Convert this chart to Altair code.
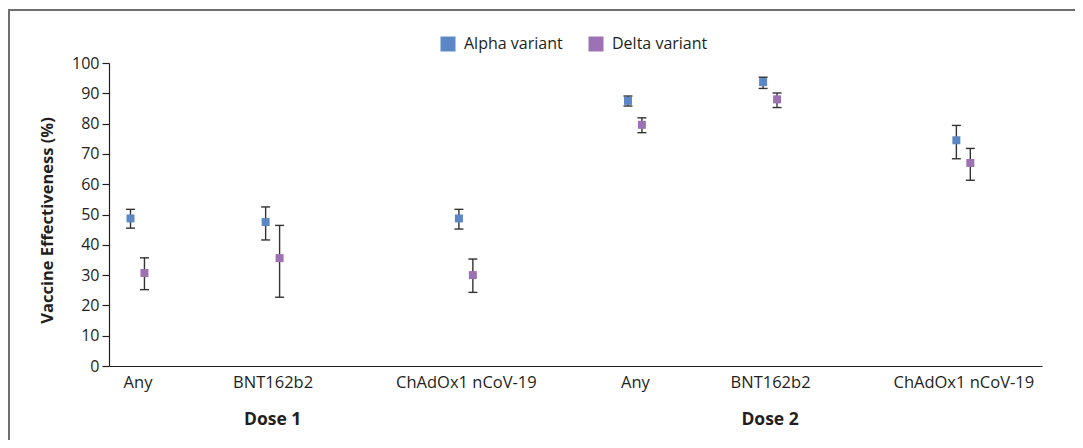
import altair as alt
import pandas as pd

# ---- data ----
doses = ["Dose 1", "Dose 2"]
vaccines = ["Any", "BNT162b2", "ChAdOx1 nCoV-19"]
variants = ["Alpha variant", "Delta variant"]

alpha_est = [48.7, 47.5, 48.7, 87.5, 93.7, 74.5]
alpha_lo = [45.5, 41.6, 45.2, 85.8, 91.6, 68.4]
alpha_hi = [51.7, 52.5, 51.7, 89.1, 95.3, 79.4]

delta_est = [30.7, 35.6, 30.0, 79.6, 88.0, 67.0]
delta_lo = [25.2, 22.7, 24.3, 77.0, 85.3, 61.3]
delta_hi = [35.7, 46.4, 35.3, 81.9, 90.1, 71.8]

y_ticks = list(range(0, 101, 10))

# ---- layout: category labels evenly gapped along the axis (in character units) ----
LEAD, GAP, TAIL, OFFSET = 1.44, 8.45, 0.62, 0.72
cats = [(d, v) for d in doses for v in vaccines]
positions = []
cur = LEAD
for d, v in cats:
    positions.append(cur + len(v) / 2)
    cur += len(v) + GAP
x_max = cur - GAP + TAIL

rows = []
series = {
    variants[0]: (alpha_est, alpha_lo, alpha_hi),
    variants[1]: (delta_est, delta_lo, delta_hi),
}
for i, (d, v) in enumerate(cats):
    for var, (e, lo, hi) in series.items():
        rows.append({"dose": d, "vaccine": v, "variant": var, "pos": positions[i],
                     "est": e[i], "lo": lo[i], "hi": hi[i]})
df = pd.DataFrame(rows)

dose_df = pd.DataFrame({
    "dose": doses,
    "xp": [positions[doses.index(d) * len(vaccines) + 1] for d in doses],
})

label_expr = ""
for p, (d, v) in zip(positions, cats):
    label_expr += f"abs(datum.value - {p:.4f}) < 0.01 ? '{v}' : "
label_expr += "''"

FONT = "Open Sans"
FS = 16
TEXT = "#231f20"
AXIS = "#231f20"
BLUE = "#5b87c6"
PURPLE = "#9c72b2"

x_enc = alt.X(
    "xp:Q",
    scale=alt.Scale(domain=[0, x_max], nice=False, zero=False),
    axis=alt.Axis(values=positions, labelExpr=label_expr, ticks=False, grid=False,
                  title=None, labelFontSize=16.5, labelColor=TEXT, labelPadding=8,
                  domainColor=AXIS, domainWidth=1.2, labelFont=FONT),
)
y_axis = alt.Axis(values=y_ticks, title="Vaccine Effectiveness (%)", grid=False,
                  tickSize=7, tickColor=AXIS, tickWidth=1.2, domainColor=AXIS,
                  domainWidth=1.2, labelFontSize=FS, labelColor=TEXT, labelPadding=3,
                  labelFont=FONT, titleFont=FONT, titleFontSize=16.5, titleColor=TEXT,
                  titleFontWeight="bold", titlePadding=16, titleY=157)
y_scale = alt.Scale(domain=[0, 100], nice=False)

base = alt.Chart(df).transform_calculate(
    xp=f"datum.pos + (datum.variant == '{variants[0]}' ? -{OFFSET} : {OFFSET})"
)

bars = base.mark_rule(color="#333333", strokeWidth=1.4).encode(
    x=x_enc, y=alt.Y("lo:Q", scale=y_scale, axis=y_axis), y2="hi:Q"
)
cap_lo = base.mark_tick(orient="horizontal", size=9, thickness=1.4, color="#333333",
                        opacity=1).encode(
    x=x_enc, y=alt.Y("lo:Q", scale=y_scale, axis=y_axis)
)
cap_hi = base.mark_tick(orient="horizontal", size=9, thickness=1.4, color="#333333",
                        opacity=1).encode(
    x=x_enc, y=alt.Y("hi:Q", scale=y_scale, axis=y_axis)
)
points = base.mark_square(size=64, opacity=1, filled=True).encode(
    x=x_enc,
    y=alt.Y("est:Q", scale=y_scale, axis=y_axis),
    color=alt.Color(
        "variant:N",
        scale=alt.Scale(domain=variants, range=[BLUE, PURPLE]),
        legend=alt.Legend(orient="none", legendX=331, legendY=-27, direction="horizontal",
                          title=None, symbolType="square", symbolSize=225,
                          symbolStrokeWidth=0, symbolOpacity=1, labelFontSize=FS,
                          labelFont=FONT, labelColor=TEXT, labelOffset=8,
                          columnPadding=25, padding=0),
    ),
)

dose_text = alt.Chart(dose_df).mark_text(
    fontWeight="bold", fontSize=17.5, font=FONT, color=TEXT, baseline="middle"
).encode(x=x_enc, y=alt.value(357), text="dose:N")

frame_df = pd.DataFrame({"k": [0]})
frame_top = alt.Chart(frame_df).mark_rule(color="#6d6e71", strokeWidth=2).encode(
    x=alt.value(-101), x2=alt.value(966), y=alt.value(-53)
)
frame_left = alt.Chart(frame_df).mark_rule(color="#6d6e71", strokeWidth=2).encode(
    x=alt.value(-100), y=alt.value(-53), y2=alt.value(377)
)

chart = alt.layer(frame_top, frame_left, bars, cap_lo, cap_hi, points, dose_text).properties(
    width=933, height=303,
    autosize=alt.AutoSizeParams(type="none"),
    padding={"left": 101, "top": 55, "right": 33, "bottom": 74},
).configure(font=FONT).configure_view(strokeWidth=0, strokeOpacity=0)

chart.save("out.html", embed_options={"renderer": "svg", "actions": False})
